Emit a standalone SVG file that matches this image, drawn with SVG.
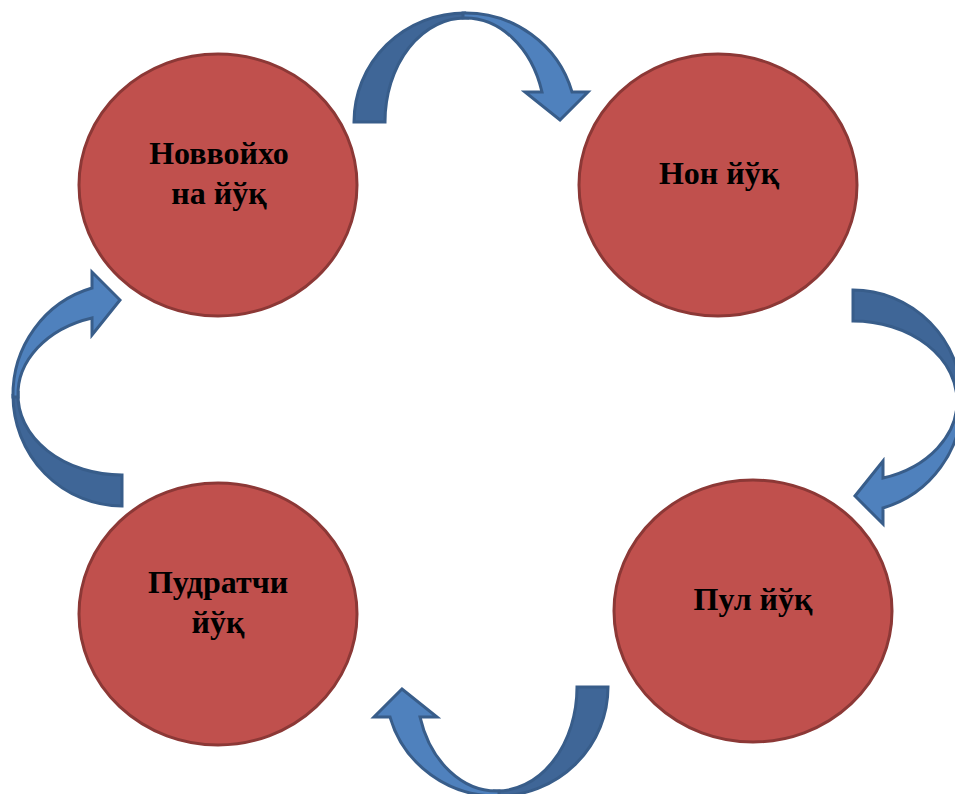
<svg xmlns="http://www.w3.org/2000/svg" width="955" height="794" viewBox="0 0 955 794">
  <style>
    .node { fill: #C0504D; stroke: #8C3836; stroke-width: 3; }
    .lbl { font-family: "Liberation Serif", "Times New Roman", serif; font-weight: bold; font-size: 32px; fill: #000; text-anchor: middle; }
    .back { fill: #3F6697; stroke: #385D8A; stroke-width: 3; stroke-linejoin: miter; }
    .front { fill: #4F81BD; stroke: #385D8A; stroke-width: 3; stroke-linejoin: miter; }
  </style>
  <defs>
    <g id="curvedArrow">
      <path class="back" d="M 0,109 A 111 109 0 0 1 111,0 L 113,5 A 80 104 0 0 0 31,109 Z"/>
      <path class="front" d="M 109,0 A 111 109 0 0 1 218,79 L 234,79 L 206,107 L 171,79 L 188,79 A 80 104 0 0 0 109,5 Z"/>
    </g>
  </defs>
  <rect width="955" height="794" fill="#FFFFFF"/>
  <g id="connectors">
    <use href="#curvedArrow" transform="translate(354,13)"/>
    <use href="#curvedArrow" transform="translate(962,290) rotate(90)"/>
    <use href="#curvedArrow" transform="translate(608,796) rotate(180)"/>
    <use href="#curvedArrow" transform="translate(13,506) rotate(270)"/>
  </g>
  <g id="node-novvoykhona">
    <ellipse class="node" cx="218" cy="185" rx="139" ry="131"/>
    <text class="lbl" x="219" y="164">Новвойхо</text>
    <text class="lbl" x="219" y="204">на йўқ</text>
  </g>
  <g id="node-non">
    <ellipse class="node" cx="718" cy="185" rx="139" ry="131"/>
    <text class="lbl" x="719" y="184">Нон йўқ</text>
  </g>
  <g id="node-pul">
    <ellipse class="node" cx="753" cy="611" rx="139" ry="131"/>
    <text class="lbl" x="753" y="610">Пул йўқ</text>
  </g>
  <g id="node-pudratchi">
    <ellipse class="node" cx="218" cy="614" rx="139" ry="131"/>
    <text class="lbl" x="218" y="593">Пудратчи</text>
    <text class="lbl" x="218" y="633">йўқ</text>
  </g>
</svg>
